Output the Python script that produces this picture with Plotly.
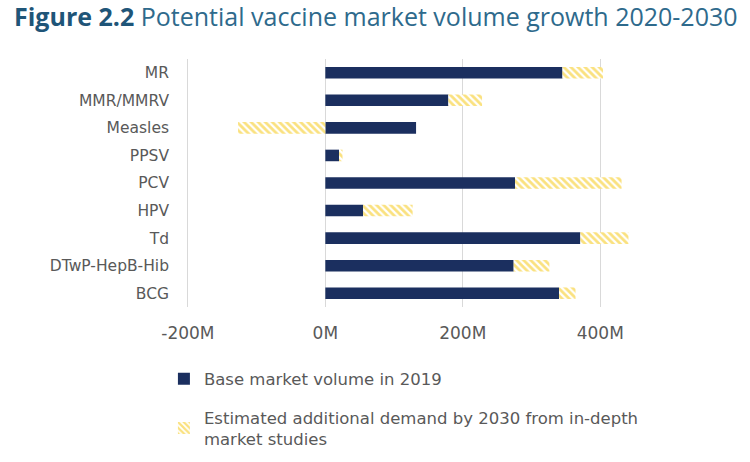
import plotly.graph_objects as go

categories = ["MR", "MMR/MMRV", "Measles", "PPSV", "PCV", "HPV", "Td", "DTwP-HepB-Hib", "BCG"]
base_2019 = [345e6, 179e6, 132e6, 20e6, 276e6, 55e6, 371e6, 274e6, 340e6]
additional_2030 = [59e6, 49e6, -127e6, 5e6, 155e6, 72e6, 70e6, 52e6, 24e6]
tick_vals = [-200e6, 0, 200e6, 400e6]
tick_text = ["-200M", "0M", "200M", "400M"]

NAVY = "#1b2f5f"
YELLOW = "#f5c400"
GREY = "#595959"
FONT = "DejaVu Sans, Verdana, sans-serif"

fig = go.Figure()
fig.add_trace(go.Bar(
    y=categories, x=base_2019, orientation="h",
    name="Base market volume in 2019",
    marker=dict(color=NAVY, line=dict(width=0)),
    width=0.42, legendgroup="a",
))
fig.add_trace(go.Bar(
    y=categories, x=additional_2030, orientation="h",
    name="Estimated additional demand by 2030 from in-depth<br>market studies",
    marker=dict(color="white", line=dict(width=0),
                pattern=dict(shape="\\", fgcolor=YELLOW, bgcolor="white",
                             size=5, solidity=0.55)),
    width=0.42, legendgroup="b",
))

fig.update_layout(
    width=750, height=462,
    barmode="relative",
    paper_bgcolor="white", plot_bgcolor="white",
    margin=dict(l=181, r=81, t=59, b=155, autoexpand=False),
    font=dict(family=FONT, color=GREY, size=15),
    title=dict(
        text="<b>Figure 2.2</b><span style='color:#2e6a8c'> Potential vaccine market volume growth 2020-2030</span>",
        x=14 / 750, xref="container", xanchor="left",
        y=0.962, yref="container", yanchor="middle",
        font=dict(family="Open Sans, sans-serif", size=25, color="#1f5578"),
    ),
    xaxis=dict(
        range=[-210e6, 500e6], tickvals=tick_vals, ticktext=tick_text,
        showgrid=True, gridcolor="#d9d9d9", gridwidth=1,
        zeroline=True, zerolinecolor="#d9d9d9", zerolinewidth=1,
        showline=False, ticks="", tickfont=dict(size=17, color=GREY),
        ticklabelstandoff=14, automargin=False, fixedrange=True,
    ),
    yaxis=dict(
        categoryorder="array", categoryarray=categories, autorange="reversed",
        showgrid=False, zeroline=False, showline=False, ticks="",
        ticklabelstandoff=11, tickfont=dict(size=15.5, color=GREY),
        automargin=False,
    ),
    legend=dict(
        x=-0.035, xanchor="left",
        y=0.2175, yref="container", yanchor="top",
        orientation="v", traceorder="grouped", tracegroupgap=14,
        font=dict(size=16.5, color=GREY, family=FONT), itemwidth=30,
    ),
    showlegend=True,
)

fig.write_html("out.html", config={"displayModeBar": False},
               post_script="document.body.style.margin='0';")
